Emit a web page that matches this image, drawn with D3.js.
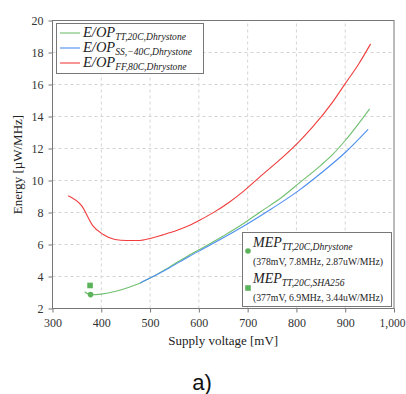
<!DOCTYPE html>
<html>
<head>
<meta charset="utf-8">
<script src="https://cdn.jsdelivr.net/npm/d3@7"></script>
<style>
  body { margin: 0; background: #fff; }
  svg { display: block; }
  svg text { font-family: "Liberation Serif", "DejaVu Serif", serif; }
  svg text.sans { font-family: "Liberation Sans", Arial, sans-serif; }
</style>
</head>
<body>
<div id="chart"></div>
<script>
// E/OP vs supply voltage, three corners + two MEP markers
const ttVolt = [366, 378, 400, 430, 460, 480, 500, 540, 580, 610, 650, 690, 725, 770, 806, 850, 875, 900, 950]
const ttEnergy = [3.05, 2.86, 2.9, 3.08, 3.36, 3.6, 3.9, 4.6, 5.33, 5.83, 6.53, 7.28, 8.02, 8.95, 9.85, 10.95, 11.65, 12.5, 14.48]

const ssVolt = [480, 500, 540, 580, 610, 650, 700, 750, 806, 850, 900, 947]
const ssEnergy = [3.6, 3.9, 4.55, 5.25, 5.75, 6.42, 7.3, 8.25, 9.4, 10.45, 11.75, 13.2]

const ffVolt = [332, 360, 382, 404, 428, 452, 476, 500, 526, 557, 581, 605, 632, 663, 690, 724, 765, 806, 832, 873, 901, 928, 952]
const ffEnergy = [9.05, 8.41, 7.2, 6.62, 6.31, 6.25, 6.25, 6.38, 6.6, 6.9, 7.2, 7.58, 8.04, 8.66, 9.29, 10.2, 11.27, 12.45, 13.3, 14.85, 16.1, 17.3, 18.54]

const mepPoints = [
  { v: 378, e: 2.87, shape: 'circle', sub: 'TT,20C,Dhrystone', note: '(378mV, 7.8MHz, 2.87uW/MHz)' },
  { v: 377, e: 3.44, shape: 'square', sub: 'TT,20C,SHA256', note: '(377mV, 6.9MHz, 3.44uW/MHz)' }
]

const xTicks = [300, 400, 500, 600, 700, 800, 900, 1000]
const yTicks = [2, 4, 6, 8, 10, 12, 14, 16, 18, 20]

const series = [
  { name: 'TT,20C,Dhrystone', color: '#6fbf6f', v: ttVolt, e: ttEnergy },
  { name: 'SS,−40C,Dhrystone', color: '#4d8ff0', v: ssVolt, e: ssEnergy },
  { name: 'FF,80C,Dhrystone', color: '#f03c3c', v: ffVolt, e: ffEnergy }
]

const W = 406, H = 394
const m = { left: 52.5, right: 12, top: 20.5, bottom: 85.5 }

const svg = d3.select('#chart').append('svg').attr('width', W).attr('height', H)

const x = d3.scaleLinear().domain([300, 1000]).range([m.left, W - m.right])
const y = d3.scaleLinear().domain([2, 20]).range([H - m.bottom, m.top])

// grid
const grid = svg.append('g')
grid.selectAll('line.gx').data(xTicks.slice(1, -1)).join('line')
  .attr('x1', d => x(d)).attr('x2', d => x(d))
  .attr('y1', y(2)).attr('y2', y(20))
  .attr('stroke', '#d4d4d4').attr('stroke-dasharray', '3,3')
grid.selectAll('line.gy').data(yTicks.slice(1, -1)).join('line')
  .attr('y1', d => y(d)).attr('y2', d => y(d))
  .attr('x1', x(300)).attr('x2', x(1000))
  .attr('stroke', '#d4d4d4').attr('stroke-dasharray', '3,3')

// axes
const fmt = d3.format(',')
const xAxis = svg.append('g').attr('transform', `translate(0,${y(2)})`)
  .call(d3.axisBottom(x).tickValues(xTicks).tickFormat(fmt).tickSize(4).tickPadding(6))
const yAxis = svg.append('g').attr('transform', `translate(${x(300)},0)`)
  .call(d3.axisLeft(y).tickValues(yTicks).tickSize(4).tickPadding(5))
;[xAxis, yAxis].forEach(a => {
  a.attr('font-family', null)
  a.select('.domain').remove()
  a.selectAll('line').attr('stroke', '#777')
  a.selectAll('text').attr('font-size', 12).attr('fill', '#333')
})
// last x label sits at the page edge; nudge it in a little
xAxis.selectAll('.tick text').filter(d => d === 1000).attr('dx', -2).attr('font-size', 11.5)

// box
svg.append('rect')
  .attr('x', x(300)).attr('y', y(20))
  .attr('width', x(1000) - x(300)).attr('height', y(2) - y(20))
  .attr('fill', 'none').attr('stroke', '#777').attr('stroke-width', 1)

// lines
const line = d3.line().x(d => x(d[0])).y(d => y(d[1])).curve(d3.curveMonotoneX)
series.forEach(s => {
  svg.append('path')
    .datum(s.v.map((v, i) => [v, s.e[i]]))
    .attr('d', line)
    .attr('fill', 'none').attr('stroke', s.color).attr('stroke-width', 1.1)
})

// MEP markers
const mepColor = '#5cb35c'
mepPoints.forEach(p => {
  if (p.shape === 'circle') {
    svg.append('circle').attr('cx', x(p.v)).attr('cy', y(p.e)).attr('r', 2.8).attr('fill', mepColor)
  } else {
    svg.append('rect').attr('x', x(p.v) - 2.8).attr('y', y(p.e) - 2.8).attr('width', 5.6).attr('height', 5.6).attr('fill', mepColor)
  }
})

function mathLabel (g, px, py, base, sub, size, subSize) {
  const t = g.append('text').attr('x', px).attr('y', py)
    .attr('font-style', 'italic')
    .attr('font-size', size).attr('fill', '#222')
  t.append('tspan').text(base)
  t.append('tspan').attr('dy', 3).attr('font-size', subSize).text(sub)
  return t
}

// legend 1
const lg = svg.append('g')
lg.append('rect').attr('x', 56.5).attr('y', 23.5).attr('width', 147).attr('height', 50)
  .attr('fill', '#fff').attr('stroke', '#777')
series.forEach((s, i) => {
  const ly = 33 + i * 15
  lg.append('line').attr('x1', 60).attr('x2', 80).attr('y1', ly).attr('y2', ly)
    .attr('stroke', s.color).attr('stroke-width', 1.1)
  mathLabel(lg, 83, ly + 4, 'E/OP', s.name, 14.5, 9.6)
})

// legend 2
const lg2 = svg.append('g')
lg2.append('rect').attr('x', 242.5).attr('y', 232.5).attr('width', 149).attr('height', 74)
  .attr('fill', '#fff').attr('stroke', '#777')
mepPoints.forEach((p, i) => {
  const ly = 247 + i * 36
  if (p.shape === 'circle') {
    lg2.append('circle').attr('cx', 248).attr('cy', ly + 4).attr('r', 2.8).attr('fill', mepColor)
  } else {
    lg2.append('rect').attr('x', 245.2).attr('y', ly + 2.2).attr('width', 5.6).attr('height', 5.6).attr('fill', mepColor)
  }
  mathLabel(lg2, 253, ly, 'MEP', p.sub, 14, 9.6)
  lg2.append('text').attr('x', 253).attr('y', ly + 17.5)
    .attr('font-size', 9.8).attr('fill', '#222')
    .attr('textLength', 130).attr('lengthAdjust', 'spacingAndGlyphs')
    .text(p.note)
})

// axis titles
svg.append('text').attr('x', x(650)).attr('y', 345)
  .attr('text-anchor', 'middle').attr('font-size', 13).attr('fill', '#222')
  .text('Supply voltage [mV]')
svg.append('text').attr('transform', `translate(22,${y(11)}) rotate(-90)`)
  .attr('text-anchor', 'middle').attr('font-size', 13).attr('fill', '#222')
  .text('Energy [µW/MHz]')

svg.append('text').attr('class', 'sans').attr('x', 202).attr('y', 390)
  .attr('text-anchor', 'middle')
  .attr('font-size', 22).attr('fill', '#111')
  .text('a)')
</script>
</body>
</html>
